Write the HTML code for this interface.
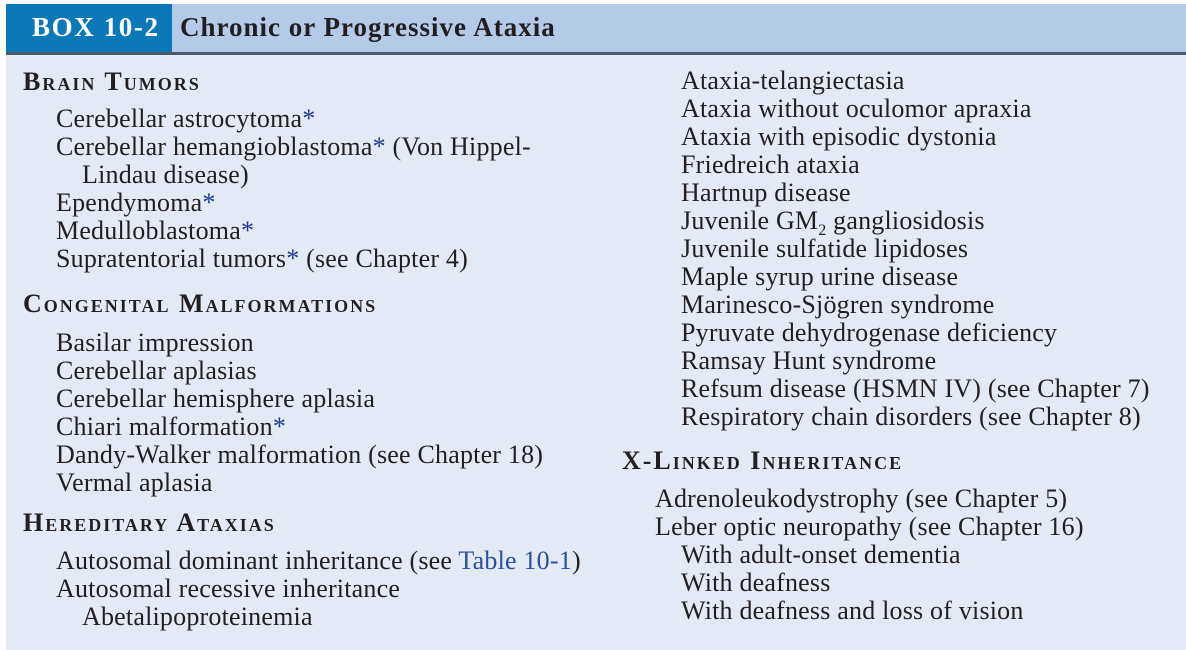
<!DOCTYPE html>
<html><head><meta charset="utf-8"><style>
html,body{margin:0;padding:0;width:1186px;height:650px;background:#fff;overflow:hidden}
#box{position:absolute;left:6px;top:4px;width:1180px;height:646px;background:#e3e9f5}
#hdr{position:absolute;left:0;top:0;width:1180px;height:48px;background:#b5cae6;border-bottom:3px solid #4b5a6d}
#tag{position:absolute;left:0;top:0;width:166px;height:48px;background:#0b78b8}
.h{position:absolute;font-family:"Liberation Serif",serif;font-weight:bold;font-size:27px;line-height:28px;white-space:nowrap}
.t{position:absolute;font-family:"Liberation Serif",serif;font-size:26px;line-height:28px;color:#231f20;white-space:nowrap;letter-spacing:0.2px}
.s{position:absolute;font-family:"Liberation Serif",serif;font-size:26px;font-weight:bold;font-variant:small-caps;line-height:28px;color:#231f20;white-space:nowrap;letter-spacing:2px}
.a{color:#1d3c8f}
.l{color:#2b4fa0}
</style></head><body>
<div id="box">
<div id="hdr">
<div id="tag"></div>
<div class="h" style="left:26px;top:9px;color:#fff;letter-spacing:1.6px">BOX 10-2</div>
<div class="h" style="left:174px;top:9px;color:#231f20;letter-spacing:1px">Chronic or Progressive Ataxia</div>
</div>
</div>
<div class="s" style="left:23px;top:68px">Brain Tumors</div>
<div class="t" style="left:56px;top:105px">Cerebellar astrocytoma<span class="a">*</span></div>
<div class="t" style="left:56px;top:133px">Cerebellar hemangioblastoma<span class="a">*</span> (Von Hippel-</div>
<div class="t" style="left:82px;top:161px">Lindau disease)</div>
<div class="t" style="left:56px;top:189px">Ependymoma<span class="a">*</span></div>
<div class="t" style="left:56px;top:217px">Medulloblastoma<span class="a">*</span></div>
<div class="t" style="left:56px;top:245px">Supratentorial tumors<span class="a">*</span> (see Chapter 4)</div>
<div class="s" style="left:23px;top:290px">Congenital Malformations</div>
<div class="t" style="left:56px;top:329px">Basilar impression</div>
<div class="t" style="left:56px;top:357px">Cerebellar aplasias</div>
<div class="t" style="left:56px;top:385px">Cerebellar hemisphere aplasia</div>
<div class="t" style="left:56px;top:413px">Chiari malformation<span class="a">*</span></div>
<div class="t" style="left:56px;top:441px">Dandy-Walker malformation (see Chapter 18)</div>
<div class="t" style="left:56px;top:469px">Vermal aplasia</div>
<div class="s" style="left:23px;top:509px">Hereditary Ataxias</div>
<div class="t" style="left:56px;top:547px">Autosomal dominant inheritance (see <span class="l">Table 10-1</span>)</div>
<div class="t" style="left:56px;top:575px">Autosomal recessive inheritance</div>
<div class="t" style="left:82px;top:603px">Abetalipoproteinemia</div>

<div class="t" style="left:681px;top:67px">Ataxia-telangiectasia</div>
<div class="t" style="left:681px;top:95px">Ataxia without oculomor apraxia</div>
<div class="t" style="left:681px;top:123px">Ataxia with episodic dystonia</div>
<div class="t" style="left:681px;top:151px">Friedreich ataxia</div>
<div class="t" style="left:681px;top:179px">Hartnup disease</div>
<div class="t" style="left:681px;top:207px">Juvenile GM<sub style="font-size:16px;line-height:0">2</sub> gangliosidosis</div>
<div class="t" style="left:681px;top:235px">Juvenile sulfatide lipidoses</div>
<div class="t" style="left:681px;top:263px">Maple syrup urine disease</div>
<div class="t" style="left:681px;top:291px">Marinesco-Sjögren syndrome</div>
<div class="t" style="left:681px;top:319px">Pyruvate dehydrogenase deficiency</div>
<div class="t" style="left:681px;top:347px">Ramsay Hunt syndrome</div>
<div class="t" style="left:681px;top:375px">Refsum disease (HSMN IV) (see Chapter 7)</div>
<div class="t" style="left:681px;top:403px">Respiratory chain disorders (see Chapter 8)</div>
<div class="s" style="left:622px;top:447px">X-Linked Inheritance</div>
<div class="t" style="left:655px;top:485px">Adrenoleukodystrophy (see Chapter 5)</div>
<div class="t" style="left:655px;top:513px">Leber optic neuropathy (see Chapter 16)</div>
<div class="t" style="left:681px;top:541px">With adult-onset dementia</div>
<div class="t" style="left:681px;top:569px">With deafness</div>
<div class="t" style="left:681px;top:597px">With deafness and loss of vision</div>
</body></html>
